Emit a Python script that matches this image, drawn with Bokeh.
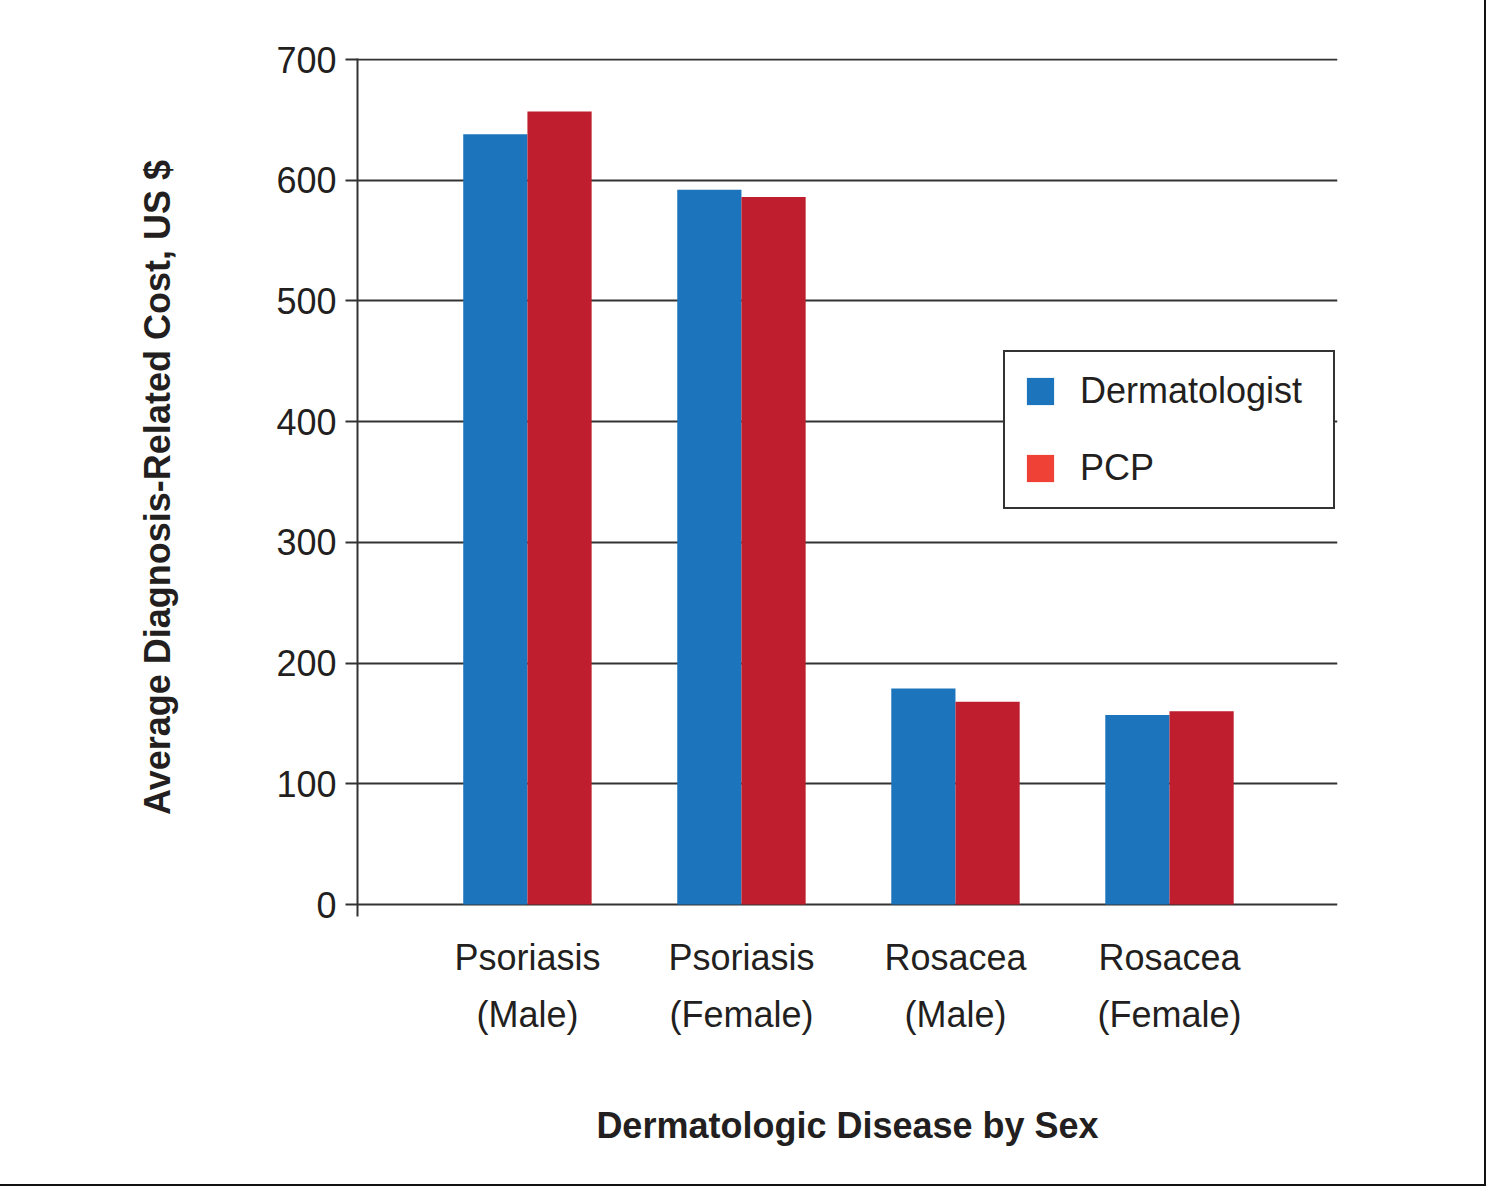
from bokeh.plotting import figure
from bokeh.models import (Range1d, ColumnDataSource, FixedTicker, LinearAxis,
                          Legend, LegendItem)
from bokeh.transform import dodge
from bokeh.embed import file_html
from bokeh.resources import INLINE

# ---- data ----
categories = ["Psoriasis (Male)", "Psoriasis (Female)", "Rosacea (Male)", "Rosacea (Female)"]
label_line1 = ["Psoriasis", "Psoriasis", "Rosacea", "Rosacea"]
label_line2 = ["(Male)", "(Female)", "(Male)", "(Female)"]
dermatologist = [638, 592, 179, 157]
pcp = [657, 586, 168, 160]
y_ticks = [0, 100, 200, 300, 400, 500, 600, 700]

FONT = "Liberation Sans"
TXT = "#231f20"
BLUE = "#1c75bc"
RED = "#be1e2d"
RED_LEG = "#ef4136"
LINE = "#333333"

xpos = list(range(len(categories)))
src = ColumnDataSource(dict(x=xpos, derm=dermatologist, pcp=pcp))

p = figure(frame_width=980, frame_height=858,
           min_border_left=357, min_border_right=147,
           min_border_top=58, min_border_bottom=268,
           x_range=Range1d(-0.794, 3.785), y_range=Range1d(-9.94, 700.83),
           output_backend="svg", toolbar_location=None)
p.outline_line_color = None
p.background_fill_color = "white"
p.border_fill_color = "white"

w = 0.3
r1 = p.vbar(x=dodge("x", -0.15), top="derm", width=w, bottom=0, source=src,
            fill_color=BLUE, line_color=None)
r2 = p.vbar(x=dodge("x", 0.15), top="pcp", width=w, bottom=0, source=src,
            fill_color=RED, line_color=None)
# hidden renderer used only for the legend swatch colour
r2_leg = p.vbar(x=dodge("x", 0.15), top="pcp", width=w, bottom=0, source=src,
                fill_color=RED_LEG, line_color=None, visible=False)

# y axis
ya = p.yaxis[0]
ya.ticker = FixedTicker(ticks=y_ticks)
ya.axis_line_color = LINE
ya.axis_line_width = 2
ya.major_tick_line_color = LINE
ya.major_tick_line_width = 2
ya.major_tick_out = 12
ya.major_tick_in = 0
ya.minor_tick_line_color = None
ya.major_label_text_font = FONT
ya.major_label_text_font_size = "36px"
ya.major_label_text_color = TXT
ya.major_label_standoff = 9
ya.axis_label = "Average Diagnosis-Related Cost, US $"
ya.axis_label_text_font = FONT
ya.axis_label_text_font_size = "36px"
ya.axis_label_text_font_style = "bold"
ya.axis_label_text_color = TXT
ya.axis_label_standoff = 95

p.ygrid.ticker = FixedTicker(ticks=y_ticks)
p.ygrid.grid_line_color = LINE
p.ygrid.grid_line_width = 2
p.xgrid.grid_line_color = None

# x axis: two stacked axes for the two label lines
xa = p.xaxis[0]
xa.ticker = FixedTicker(ticks=xpos)
xa.major_label_overrides = {i: t for i, t in zip(xpos, label_line1)}
xa.axis_line_color = None
xa.major_tick_line_color = None
xa.minor_tick_line_color = None
xa.major_label_text_font = FONT
xa.major_label_text_font_size = "36px"
xa.major_label_text_color = TXT
xa.major_label_standoff = 14

xa2 = LinearAxis(ticker=FixedTicker(ticks=xpos),
                 major_label_overrides={i: t for i, t in zip(xpos, label_line2)})
xa2.axis_line_color = None
xa2.major_tick_line_color = None
xa2.minor_tick_line_color = None
xa2.major_label_text_font = FONT
xa2.major_label_text_font_size = "36px"
xa2.major_label_text_color = TXT
xa2.major_label_standoff = 7
xa2.axis_label = "Dermatologic Disease by Sex"
xa2.axis_label_text_font = FONT
xa2.axis_label_text_font_size = "36px"
xa2.axis_label_text_font_style = "bold"
xa2.axis_label_text_color = TXT
xa2.axis_label_standoff = 67
p.add_layout(xa2, "below")

legend = Legend(items=[LegendItem(label="Dermatologist", renderers=[r1]),
                       LegendItem(label="PCP", renderers=[r2_leg])],
                location=(646, 407))
legend.label_text_font = FONT
legend.label_text_font_size = "36px"
legend.label_text_color = TXT
legend.glyph_width = 34
legend.glyph_height = 34
legend.label_standoff = 23
legend.label_width = 235
legend.padding = 18
legend.spacing = 35
legend.margin = 0
legend.border_line_color = LINE
legend.border_line_width = 2
legend.border_line_alpha = 1
legend.background_fill_color = "white"
legend.background_fill_alpha = 1
p.add_layout(legend, "center")

p.styles = {"outline": "2px solid #111"}

open("out.html", "w").write(file_html(p, INLINE))
